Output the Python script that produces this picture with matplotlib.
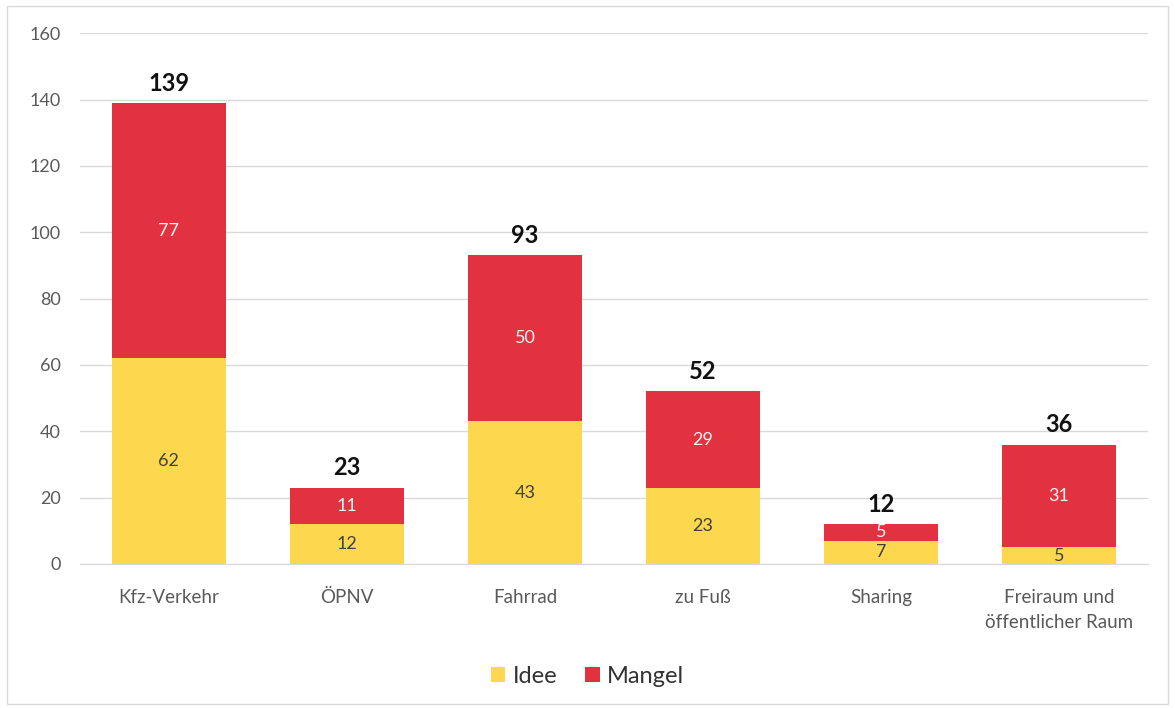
import matplotlib.pyplot as plt
import numpy as np
from matplotlib.patches import Rectangle

plt.rcParams['font.family'] = ['Lato', 'DejaVu Sans']

# Anzahl der Beiträge je Thema
kategorien = ['Kfz-Verkehr', 'ÖPNV', 'Fahrrad', 'zu Fuß', 'Sharing',
              'Freiraum und\nöffentlicher Raum']
idee = [62, 12, 43, 23, 7, 5]
mangel = [77, 11, 50, 29, 5, 31]
summe = [139, 23, 93, 52, 12, 36]

farbe_idee = '#FDD84E'
farbe_mangel = '#E3323F'

fig = plt.figure(figsize=(11.75, 7.08), dpi=100)
ax = fig.add_axes([0.068, 0.2034, 0.909, 0.7497])

x = np.arange(len(kategorien))
b1 = ax.bar(x, idee, width=0.64, color=farbe_idee, label='Idee', zorder=3)
b2 = ax.bar(x, mangel, width=0.64, bottom=idee, color=farbe_mangel,
            label='Mangel', zorder=3)

ax.bar_label(b1, label_type='center', color='#404040', fontsize=13)
ax.bar_label(b2, label_type='center', color='#F4F4F4', fontsize=13)
for xi, s in zip(x, summe):
    ax.text(xi, s + 2.5, str(s), ha='center', va='bottom',
            fontsize=17, fontweight='bold', color='#111111')

ax.set_xlim(-0.5, len(kategorien) - 0.5)
ax.set_ylim(0, 160)
ax.set_yticks(range(0, 161, 20))
ax.set_xticks(x)
ax.set_xticklabels(kategorien, fontsize=13.5, color='#595959',
                   linespacing=1.6)
ax.tick_params(axis='y', labelsize=13, labelcolor='#595959', length=0,
               pad=14)
ax.tick_params(axis='x', length=0, pad=18)
ax.yaxis.grid(True, color='#D9D9D9', linewidth=1, zorder=0)
for s in ['top', 'right', 'left']:
    ax.spines[s].set_visible(False)
ax.spines['bottom'].set_color('#D9D9D9')

fig.legend(handles=[b1, b2], labels=['Idee', 'Mangel'], loc='center',
           bbox_to_anchor=(0.5, 0.045), ncol=2, frameon=False, fontsize=17,
           handlelength=0.6, handleheight=0.6, handletextpad=0.3,
           columnspacing=1.2, labelcolor='#333333')

fig.patches.append(Rectangle((0.006, 0.006), 0.988, 0.986,
                             transform=fig.transFigure, fill=False,
                             edgecolor='#D9D9D9', linewidth=1))

fig.savefig('out.png', dpi=100)
